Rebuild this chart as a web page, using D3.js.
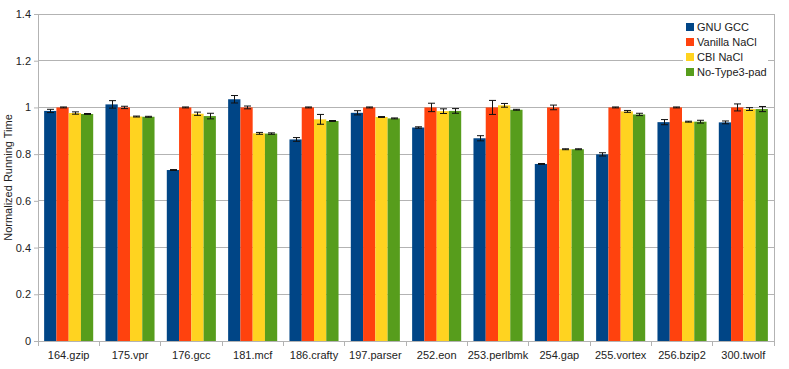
<!DOCTYPE html>
<html><head><meta charset="utf-8">
<script src="https://cdn.jsdelivr.net/npm/d3@7"></script>
<style>body{margin:0;background:#fff}svg{display:block;font-family:"Liberation Sans",Arial,sans-serif}</style>
</head><body><svg id="c" width="789" height="369"></svg>
<script>
const categories = ["164.gzip","175.vpr","176.gcc","181.mcf","186.crafty","197.parser","252.eon","253.perlbmk","254.gap","255.vortex","256.bzip2","300.twolf"];
const seriesNames = ["GNU GCC","Vanilla NaCl","CBI NaCl","No-Type3-pad"];
const gnuGcc     = [0.985,1.013,0.732,1.035,0.863,0.977,0.914,0.868,0.758,0.799,0.937,0.936];
const gnuGccErr  = [0.007,0.016,0.002,0.016,0.008,0.009,0.003,0.011,0.002,0.007,0.011,0.006];
const vanilla    = [1,1,1,1,1,1,1,1,1,1,1,1];
const vanillaErr = [0.002,0.005,0.002,0.006,0.002,0.002,0.018,0.03,0.01,0.002,0.002,0.015];
const cbi        = [0.976,0.961,0.973,0.889,0.949,0.959,0.984,1.009,0.821,0.983,0.939,0.993];
const cbiErr     = [0.005,0.002,0.007,0.004,0.021,0.002,0.01,0.008,0.002,0.004,0.002,0.006];
const noType3    = [0.972,0.96,0.963,0.888,0.942,0.953,0.985,0.99,0.821,0.97,0.939,0.993];
const noType3Err = [0.002,0.002,0.012,0.003,0.002,0.002,0.01,0.002,0.002,0.005,0.006,0.011];
const yTicks = [0,0.2,0.4,0.6,0.8,1,1.2,1.4];
const colors = ["#004586","#ff420e","#ffd320","#579d1c"];

const values = [gnuGcc, vanilla, cbi, noType3];
const errs = [gnuGccErr, vanillaErr, cbiErr, noType3Err];

const svg = d3.select("#c");
const L = 38, R = 774, T = 14, B = 341;
const groupStep = (R - L) / categories.length;
const x0 = d3.scaleBand().domain(categories).range([L, R]).padding(0);
const xs = d3.scaleBand().domain(d3.range(4)).range([0, groupStep * 0.8]);
const y = d3.scaleLinear().domain([0, 1.4]).range([B, T]);
const grid = "#b3b3b3";
const FONT = "Liberation Sans, Arial, sans-serif";

// gridlines
svg.append("g").selectAll("line").data(yTicks).join("line")
  .attr("x1", L).attr("x2", R).attr("y1", d => y(d)).attr("y2", d => y(d))
  .attr("stroke", grid).attr("stroke-width", 1).attr("shape-rendering","crispEdges");
// right border
svg.append("line").attr("x1", R).attr("x2", R).attr("y1", T).attr("y2", B)
  .attr("stroke", grid).attr("shape-rendering","crispEdges");

// y axis
const ya = svg.append("g").attr("transform", `translate(${L},0)`)
  .call(d3.axisLeft(y).tickValues(yTicks).tickSize(4).tickPadding(3).tickFormat(d => String(+d.toFixed(1))));
ya.select(".domain").attr("stroke", grid);
ya.selectAll(".tick line").attr("stroke", grid);
ya.selectAll("text").attr("font-size", 11).attr("fill", "#222").attr("font-family", FONT);

// x axis
const xa = svg.append("g").attr("transform", `translate(0,${B})`)
  .call(d3.axisBottom(x0).tickSize(0).tickPadding(10));
xa.select(".domain").attr("stroke", grid);
xa.selectAll("text").attr("font-size", 11).attr("fill", "#222").attr("font-family", FONT).attr("dy","0.71em");
// boundary ticks
const bounds = d3.range(categories.length + 1).map(i => L + i * groupStep);
svg.append("g").selectAll("line").data(bounds).join("line")
  .attr("x1", d => d).attr("x2", d => d).attr("y1", B).attr("y2", B + 5)
  .attr("stroke", grid).attr("shape-rendering","crispEdges");

// bars
const barData = [];
categories.forEach((c, i) => values.forEach((s, k) => barData.push({c, k, v: s[i], e: errs[k][i]})));
const gx = c => x0(c) + groupStep * 0.1;
svg.append("g").selectAll("rect").data(barData).join("rect")
  .attr("x", d => gx(d.c) + xs(d.k)).attr("width", xs.bandwidth())
  .attr("y", d => y(d.v)).attr("height", d => y(0) - y(d.v))
  .attr("fill", d => colors[d.k]);

// error bars
const eg = svg.append("g").attr("stroke", "#111").attr("stroke-width", 1);
barData.forEach(d => {
  const cx = Math.round(gx(d.c) + xs(d.k) + xs.bandwidth() / 2) + 0.5;
  const y1 = y(d.v + d.e), y2 = y(d.v - d.e);
  eg.append("line").attr("x1", cx).attr("x2", cx).attr("y1", y1).attr("y2", y2);
  eg.append("line").attr("x1", cx - 3.5).attr("x2", cx + 3.5).attr("y1", y1).attr("y2", y1);
  eg.append("line").attr("x1", cx - 3.5).attr("x2", cx + 3.5).attr("y1", y2).attr("y2", y2);
});

// y label
svg.append("text").attr("transform", `translate(8,${(T + B) / 2}) rotate(-90)`)
  .attr("text-anchor", "middle").attr("dy", "0.35em").attr("font-size", 11).attr("fill", "#222")
  .text("Normalized Running Time");

// legend
const lg = svg.append("g");
lg.append("rect").attr("x", 683).attr("y", 18).attr("width", 85).attr("height", 62).attr("fill", "#fff");
seriesNames.forEach((n, k) => {
  const yy = 27 + k * 15;
  lg.append("rect").attr("x", 686).attr("y", yy - 4).attr("width", 8).attr("height", 8).attr("fill", colors[k]);
  lg.append("text").attr("x", 697).attr("y", yy).attr("dy", "0.35em").attr("font-size", 11).attr("fill", "#222").text(n);
});
</script></body></html>
